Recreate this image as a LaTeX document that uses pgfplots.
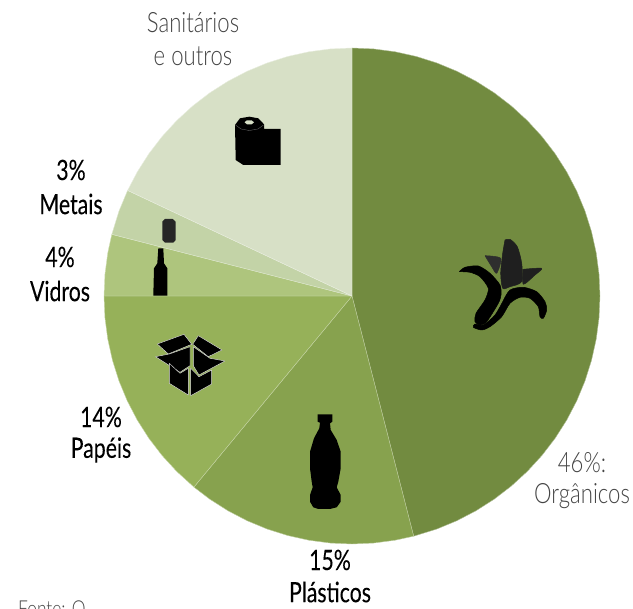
\documentclass[border=0pt]{standalone}
\usepackage{pgfplots}
\usepackage{fontspec}
\pgfplotsset{compat=1.18}
\setmainfont{Lato}
\newfontfamily\lab[FakeStretch=0.76,FakeBold=0.12]{Lato}
\newfontfamily\labthin[FakeStretch=0.79,UprightFont={* Light}]{Lato}
\definecolor{organicos}{HTML}{728B40}
\definecolor{plasticos}{HTML}{87A24E}
\definecolor{papeis}{HTML}{96B159}
\definecolor{vidros}{HTML}{AEC57D}
\definecolor{metais}{HTML}{C3D3A7}
\definecolor{sanitarios}{HTML}{D7E0C6}
\definecolor{graytext}{HTML}{454545}
\pgfplotsset{
  canvas/.style={
    at={(0pt,0pt)}, anchor=south west, scale only axis,
    width=633pt, height=609pt, axis lines=none, clip=false, no markers},
  wedge/.style={fill=#1, draw=#1!55!white, line width=0.4pt, line join=round, data cs=polar},
  icon/.style={fill=black, draw=none, line join=round},
  peel/.style={fill=#1, draw=#1, line width=0.5pt, line join=round, smooth, tension=0.45},
}
\begin{document}
\begin{tikzpicture}
\path[use as bounding box, clip] (0pt,0pt) rectangle (633pt,609pt);
% Shares run clockwise from twelve o'clock: 46, 15, 14, 4, 3 and 18 per cent (3.6 degrees each)
\begin{axis}[canvas, xmin=-352, xmax=281, ymin=-313, ymax=296]
\addplot[wedge=organicos] coordinates {(0,0)(90,248)(85,248)(80,248)(75,248)(70,248)(65,248)(60,248)(55,248)(50,248)(45,248)(40,248)(35,248)(30,248)(25,248)(20,248)(15,248)(10,248)(5,248)(0,248)(-5,248)(-10,248)(-15,248)(-20,248)(-25,248)(-30,248)(-35,248)(-40,248)(-45,248)(-50,248)(-55,248)(-60,248)(-65,248)(-70,248)(-75.6,248)(0,0)};
\addplot[wedge=plasticos] coordinates {(0,0)(-75.6,248)(-80,248)(-85,248)(-90,248)(-95,248)(-100,248)(-105,248)(-110,248)(-115,248)(-120,248)(-125,248)(-129.6,248)(0,0)};
\addplot[wedge=papeis] coordinates {(0,0)(-129.6,248)(-135,248)(-140,248)(-145,248)(-150,248)(-155,248)(-160,248)(-165,248)(-170,248)(-175,248)(-180,248)(0,0)};
\addplot[wedge=vidros] coordinates {(0,0)(-180,248)(-185,248)(-190,248)(-194.4,248)(0,0)};
\addplot[wedge=metais] coordinates {(0,0)(-194.4,248)(-200,248)(-205.2,248)(0,0)};
\addplot[wedge=sanitarios] coordinates {(0,0)(-205.2,248)(-210,248)(-215,248)(-220,248)(-225,248)(-230,248)(-235,248)(-240,248)(-245,248)(-250,248)(-255,248)(-260,248)(-265,248)(-270,248)(0,0)};
\end{axis}
% Pictograms and labels share a second canvas whose y axis grows downwards
\begin{axis}[canvas, xmin=0, xmax=633, ymin=0, ymax=609, y dir=reverse]
% banana
\addplot[peel=black!88] coordinates {(505,240)(510,239.3)(517.3,246.7)(521.7,263.3)(521.7,281.7)(510,286.7)(502.7,288.3)(500.7,273.3)(502.7,253.3)(505,240)};
\addplot[peel=black!82] coordinates {(485,255.7)(500.7,258.3)(496.7,273.3)(491.7,266.7)(485,255.7)};
\addplot[peel=black!88] coordinates {(523.3,269.3)(541.7,268.3)(535,275)(523.3,284.3)(523.3,269.3)};
\addplot[peel=black] coordinates {(459.3,271.7)(465,267.3)(478.3,266)(490,273.3)(500,285)(501,295)(498.3,303.3)(486.7,321.7)(480,325)(475,321.7)(476,313.3)(485,300)(488.3,288.3)(480,276.7)(470,272.3)(459.3,271.7)};
\addplot[peel=black] coordinates {(502.7,301.7)(510,290)(523.3,287.3)(536.7,291.7)(545,301.7)(546.7,310)(543.3,318.3)(540,316.7)(538.3,306.7)(530,298.3)(520,297.3)(510,303.3)(501.7,316.7)(490,326.7)(481.7,330)(473.3,327.3)(475,324)(483.3,325)(495,315)(502.7,301.7)};
% plastic bottle
\addplot[icon] coordinates {(317.7,414.3)(332.3,414.3)(332.3,421.7)(330,423.3)(330.7,430)(336.7,440)(340.7,451.7)(340.7,468.3)(338.3,481.7)(336.7,487.3)(340.7,495)(340.7,501.7)(336.7,507.3)(330,509)(318.3,509)(313.3,507.3)(310,501.7)(310,495)(312.7,487.3)(311.7,481.7)(310,468.3)(310,451.7)(314,438.3)(319.3,428.3)(320,422.7)(317.7,421.7)(317.7,414.3)};
% glass bottle and can
\addplot[icon] coordinates {(158.3,248.3)(163.3,248.3)(164,263.3)(167.3,268.3)(167.3,295.7)(153.3,295.7)(154,268.3)(157.3,263.3)(158.3,248.3)};
\addplot[icon, fill=black!85] coordinates {(162.3,221.7)(165,219)(172.7,219)(175.7,221.7)(175.7,240)(173.3,242.7)(165,242.7)(162.3,240)(162.3,221.7)};
% cardboard box
\pgfplotsset{boxpart/.style={icon, draw=white!70!gray, line width=0.45pt}}
\addplot[boxpart] coordinates {(157.3,344)(184,334.3)(191.7,344.3)(168.3,354)(157.3,344)};
\addplot[boxpart] coordinates {(198.3,335.7)(222,350)(208.3,356.7)(192.7,344.3)(198.3,335.7)};
\addplot[boxpart] coordinates {(155.5,356.7)(169.3,354)(190,346.7)(190,365.7)(180,372.3)(155.5,356.7)};
\addplot[boxpart] coordinates {(193.3,346.7)(210,358.3)(225,361)(199,375)(193.3,365.7)(193.3,346.7)};
\addplot[boxpart] coordinates {(169.3,363.3)(180,373.3)(188.3,368.3)(188.3,395)(169.3,383.3)(169.3,363.3)};
\addplot[boxpart] coordinates {(190.7,368.3)(199,376.7)(211.7,370)(211.7,384)(190.7,395.7)(190.7,368.3)};
% toilet roll
\addplot[icon] coordinates {(235,125)(240,118.3)(249.3,116.7)(258.3,118.3)(264,124.3)(264,129)(280.7,129)(280.7,165)(243.3,165)(235.7,160)(235,125)};
\addplot[icon, fill=sanitarios] coordinates {(244.5,122.3)(247,120.3)(251.6,120.3)(254,122.3)(251.6,124.3)(247,124.3)(244.5,122.3)};
\addplot[draw=black!55, line width=0.3pt] coordinates {(235.5,125)(241,129)(249.3,130.5)(258,129)(263.5,125)};
% labels
\begin{scope}[every node/.style={font=\fontsize{28}{28}\selectfont\lab, text=black, inner sep=0pt, anchor=center}]
\node at (axis cs:71,170) {3\%};
\node at (axis cs:71,204) {Metais};
\node at (axis cs:60,257) {4\%};
\node at (axis cs:60,291) {Vidros};
\node at (axis cs:101,417) {14\%};
\node at (axis cs:101,450) {Papéis};
\node at (axis cs:330,560) {15\%};
\node at (axis cs:330,592) {Plásticos};
\end{scope}
\begin{scope}[every node/.style={font=\fontsize{28}{28}\selectfont\labthin, text=graytext, inner sep=0pt, anchor=center}]
\node at (axis cs:193,23) {Sanitários};
\node at (axis cs:193,56) {e outros};
\node at (axis cs:582,463) {46\%:};
\node at (axis cs:582,496) {Orgânicos};
\node[anchor=base west, font=\fontsize{22}{22}\selectfont\labthin] at (axis cs:18,617) {Fonte: O};
\end{scope}
\end{axis}
\end{tikzpicture}
\end{document}
